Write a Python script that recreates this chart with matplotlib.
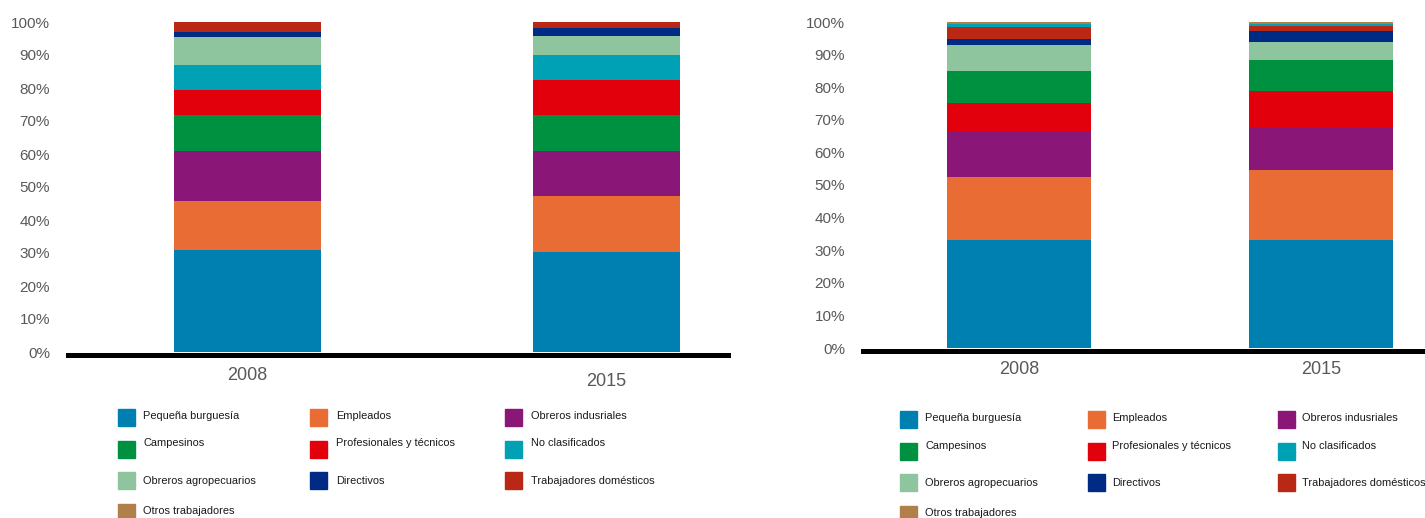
import matplotlib
matplotlib.use("Agg")
import matplotlib.pyplot as plt
from matplotlib import font_manager
from matplotlib.patches import Rectangle
from matplotlib.ticker import PercentFormatter
import numpy as np

years = ["2008", "2015"]

categories = [
    "Pequeña burguesía", "Empleados", "Obreros indusriales",
    "Campesinos", "Profesionales y técnicos", "No clasificados",
    "Obreros agropecuarios", "Directivos", "Trabajadores domésticos",
    "Otros trabajadores",
]
colors = {
    "Pequeña burguesía": "#0080b0",
    "Empleados": "#e96c35",
    "Obreros indusriales": "#8a1778",
    "Campesinos": "#009140",
    "Profesionales y técnicos": "#e1000b",
    "No clasificados": "#00a1b5",
    "Obreros agropecuarios": "#8fc59e",
    "Directivos": "#002b85",
    "Trabajadores domésticos": "#b92815",
    "Otros trabajadores": "#b1804a",
}

# left panel, stacking order bottom -> top
left_order = ["Pequeña burguesía", "Empleados", "Obreros indusriales", "Campesinos",
              "Profesionales y técnicos", "No clasificados", "Obreros agropecuarios",
              "Directivos", "Trabajadores domésticos", "Otros trabajadores"]
left_2008 = [30.9, 14.8, 15.2, 10.9, 7.7, 7.5, 8.5, 1.5, 3.0, 0.0]
left_2015 = [30.3, 16.9, 13.7, 10.9, 10.6, 7.6, 5.8, 2.4, 1.8, 0.0]

# right panel, stacking order bottom -> top
right_order = ["Pequeña burguesía", "Empleados", "Obreros indusriales",
               "Profesionales y técnicos", "Campesinos", "Obreros agropecuarios",
               "Directivos", "Trabajadores domésticos", "No clasificados",
               "Otros trabajadores"]
right_2008 = [33.0, 19.5, 13.9, 8.8, 9.8, 8.0, 1.8, 3.7, 0.9, 0.6]
right_2015 = [33.0, 21.6, 13.0, 11.1, 9.7, 5.5, 3.3, 1.7, 0.6, 0.5]

W, H = 1425, 518
installed = {f.name for f in font_manager.fontManager.ttflist}
narrow = "Liberation Sans Narrow" in installed
plt.rcParams["font.family"] = ["Liberation Sans", "DejaVu Sans"]
leg_family = ["Liberation Sans Narrow", "DejaVu Sans"] if narrow else ["Liberation Sans", "DejaVu Sans"]
leg_size = 9.4 if narrow else 7.9

fig = plt.figure(figsize=(W / 100, H / 100), dpi=100)


def px_axes(x0, y_top, x1, y_bot):
    return fig.add_axes([x0 / W, 1 - y_bot / H, (x1 - x0) / W, (y_bot - y_top) / H])


def draw_panel(ax, order, vals_a, vals_b, xlim, bar_w, xpad):
    data = np.array([vals_a, vals_b])
    x = np.arange(len(years))
    bottom = np.zeros(len(years))
    for i, cat in enumerate(order):
        ax.bar(x, data[:, i], bar_w, bottom=bottom, color=colors[cat], linewidth=0)
        bottom += data[:, i]
    ax.set_xlim(*xlim)
    ax.set_ylim(0, 100)
    ax.set_yticks(np.arange(0, 101, 10))
    ax.yaxis.set_major_formatter(PercentFormatter(decimals=0))
    ax.set_xticks(x)
    ax.set_xticklabels(years)
    for s in ["top", "right", "left"]:
        ax.spines[s].set_visible(False)
    ax.spines["bottom"].set_linewidth(3.6)
    ax.spines["bottom"].set_color("black")
    ax.spines["bottom"].set_position(("outward", 1.8))
    ax.tick_params(axis="y", length=0, pad=13, labelsize=11, labelcolor="#595959")
    ax.tick_params(axis="x", length=0, pad=xpad, labelsize=13, labelcolor="#595959")


ax1 = px_axes(68, 22, 728, 352)
draw_panel(ax1, left_order, left_2008, left_2015, (-0.5, 1.338), 0.41, 9.2)
ax1.get_xticklabels()[1].set_y(-0.018)

ax2 = px_axes(863, 22, 1425, 348)
draw_panel(ax2, right_order, right_2008, right_2015, (-0.517, 1.344), 0.477, 7.8)


def draw_legend(col_x, text_x, sq_rows, txt_rows):
    # row-wise, three columns
    for k, cat in enumerate(categories):
        r, c = divmod(k, 3)
        yc = sq_rows[r]
        fig.patches.append(Rectangle((col_x[c] / W, 1 - (yc + 8.5) / H), 17 / W, 17 / H,
                                     transform=fig.transFigure, color=colors[cat]))
        fig.text(text_x[c] / W, 1 - txt_rows[r] / H, cat, ha="left", va="center",
                 fontsize=leg_size, family=leg_family, color="#1a1a1a")


draw_legend([118, 310, 505], [143, 336, 531], [417, 449, 480, 512], [416, 443, 481, 511])
draw_legend([900, 1088, 1278], [925, 1112, 1302], [419, 451, 482, 514], [418, 446, 483, 513])

fig.savefig("out.png", dpi=100)
